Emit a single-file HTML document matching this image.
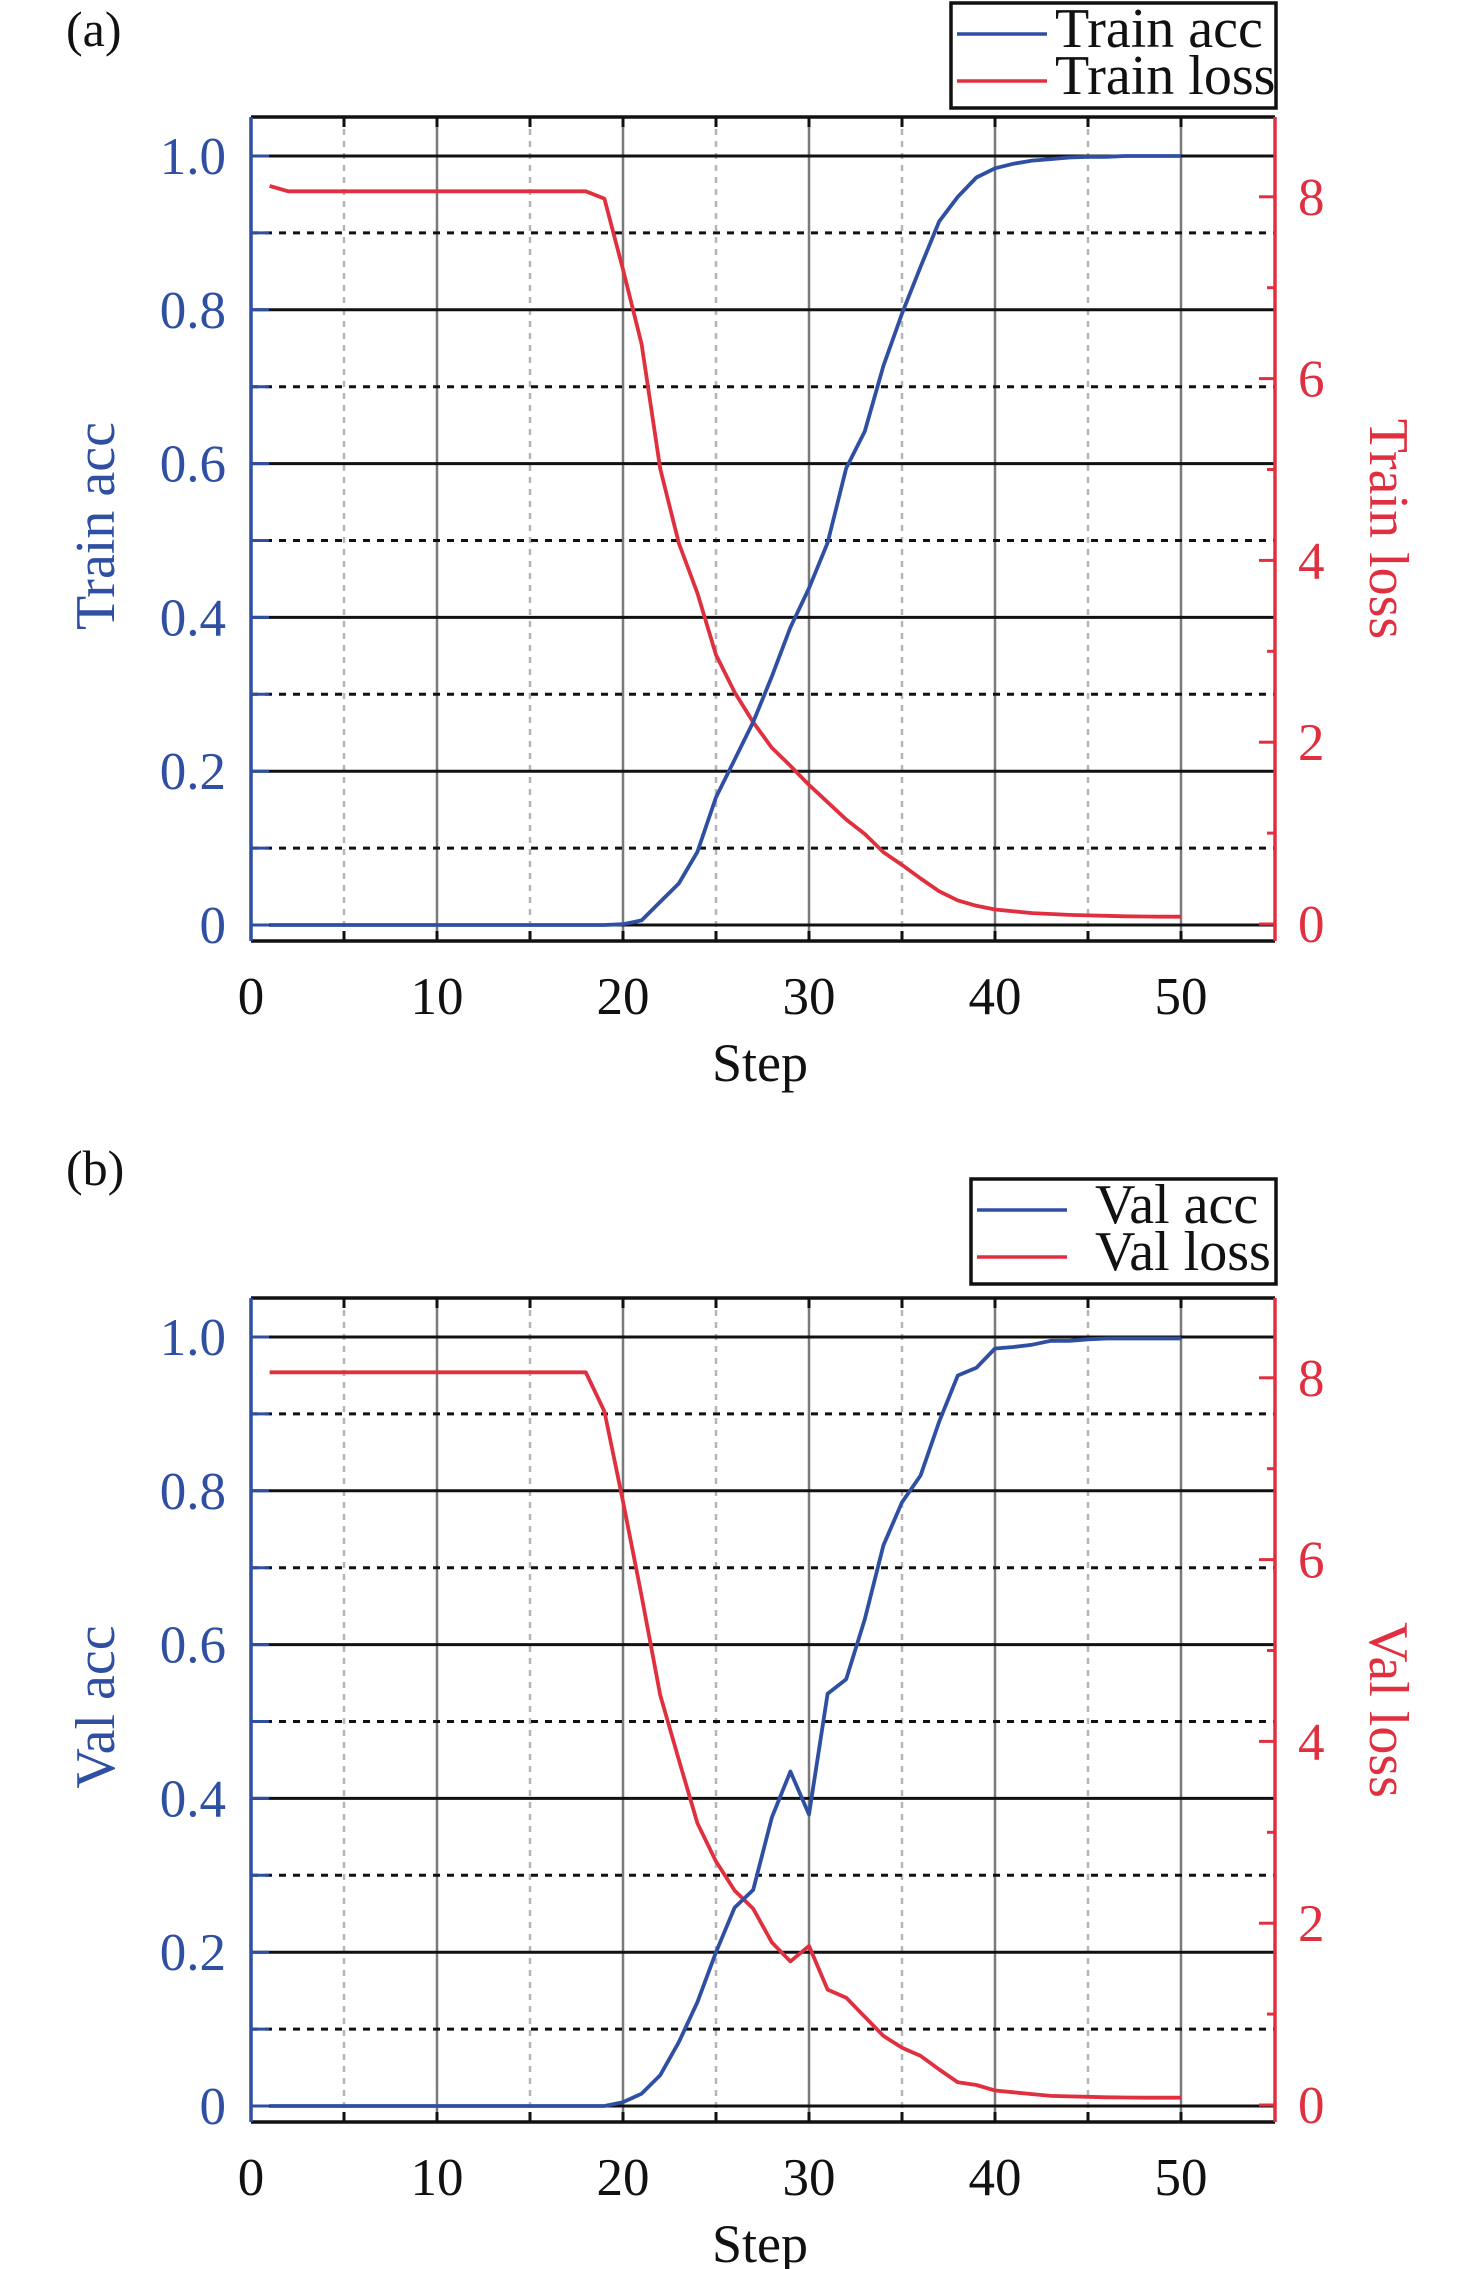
<!DOCTYPE html>
<html><head><meta charset="utf-8">
<style>
html,body{margin:0;padding:0;background:#fff;}
svg{display:block;}
text{font-family:"Liberation Serif",serif;}
</style></head>
<body>
<svg id="s" xmlns="http://www.w3.org/2000/svg" width="1476" height="2269" viewBox="0 0 1476 2269"></svg>
<script>
const B="#2f4fa2",R="#e0303f";
const S=document.getElementById('s');
let h='';
function X(s){return 251+18.6*s;}
function panel(o,accName,lossName,acc,loss,tag,tagY,leg){
  const top=117+o,bot=941+o,L=251,Rr=1275;
  const ya=v=>925+o-769*v, yl=v=>924+o-90.9*v;
  for(let s=5;s<=50;s+=5){
    const x=X(s);
    if(s%10==0) h+=`<line x1="${x}" y1="${top}" x2="${x}" y2="${bot}" stroke="#7a7a7a" stroke-width="2.5"/>`;
    else h+=`<line x1="${x}" y1="${top}" x2="${x}" y2="${bot}" stroke="#b5b5b5" stroke-width="2.5" stroke-dasharray="6,6"/>`;
    h+=`<line x1="${x}" y1="${top}" x2="${x}" y2="${top+10}" stroke="#111" stroke-width="3"/>`;
    h+=`<line x1="${x}" y1="${bot}" x2="${x}" y2="${bot-10}" stroke="#111" stroke-width="3"/>`;
  }
  for(let i=0;i<=10;i++){
    const y=ya(i/10);
    if(i%2==0) h+=`<line x1="${L}" y1="${y}" x2="${Rr}" y2="${y}" stroke="#111" stroke-width="3"/>`;
    else h+=`<line x1="${L}" y1="${y}" x2="${Rr}" y2="${y}" stroke="#111" stroke-width="3" stroke-dasharray="7,7"/>`;
    h+=`<line x1="${L}" y1="${y}" x2="${L+18}" y2="${y}" stroke="${B}" stroke-width="3"/>`;
  }
  h+=`<line x1="${L}" y1="${top}" x2="${Rr}" y2="${top}" stroke="#111" stroke-width="3.5"/>`;
  h+=`<line x1="${L}" y1="${bot}" x2="${Rr}" y2="${bot}" stroke="#111" stroke-width="3.5"/>`;
  h+=`<line x1="${L}" y1="${top}" x2="${L}" y2="${bot}" stroke="${B}" stroke-width="3.5"/>`;
  h+=`<line x1="${Rr}" y1="${top}" x2="${Rr}" y2="${bot}" stroke="${R}" stroke-width="3.5"/>`;
  for(let v=0;v<=8;v++){
    const y=yl(v);
    h+=`<line x1="${Rr}" y1="${y}" x2="${Rr-(v%2==0?16:8)}" y2="${y}" stroke="${R}" stroke-width="3"/>`;
    if(v%2==0) h+=`<text x="1298" y="${y+18}" font-size="53" fill="${R}">${v}</text>`;
  }
  const al=['0','0.2','0.4','0.6','0.8','1.0'];
  al.forEach((t,i)=>{h+=`<text x="226" y="${ya(i*0.2)+18}" font-size="53" fill="${B}" text-anchor="end">${t}</text>`;});
  for(let s=0;s<=50;s+=10) h+=`<text x="${X(s)}" y="${bot+73}" font-size="53" fill="#111" text-anchor="middle">${s}</text>`;
  h+=`<text x="760" y="${bot+140}" font-size="54" fill="#111" text-anchor="middle">Step</text>`;
  h+=`<text transform="translate(114,${526+o}) rotate(-90)" font-size="56" fill="${B}" text-anchor="middle">${accName}</text>`;
  h+=`<text transform="translate(1370,${529+o}) rotate(90)" font-size="56" fill="${R}" text-anchor="middle">${lossName}</text>`;
  h+=`<text x="66" y="${tagY}" font-size="50" fill="#111">${tag}</text>`;
  const pa=acc.map((v,i)=>X(i+1).toFixed(1)+','+ya(v).toFixed(1)).join(' ');
  const pl=loss.map((v,i)=>X(i+1).toFixed(1)+','+yl(v).toFixed(1)).join(' ');
  h+=`<polyline points="${pl}" fill="none" stroke="${R}" stroke-width="3.8" stroke-linejoin="round"/>`;
  h+=`<polyline points="${pa}" fill="none" stroke="${B}" stroke-width="3.8" stroke-linejoin="round"/>`;
  const [lx,ly,lw,lh,n1,n2,tx]=leg;
  h+=`<rect x="${lx}" y="${ly+o}" width="${lw}" height="${lh}" fill="#fff" stroke="#111" stroke-width="3.5"/>`;
  h+=`<line x1="${lx+6}" y1="${ly+31+o}" x2="${lx+96}" y2="${ly+31+o}" stroke="${B}" stroke-width="3.5"/>`;
  h+=`<line x1="${lx+6}" y1="${ly+78+o}" x2="${lx+96}" y2="${ly+78+o}" stroke="${R}" stroke-width="3.5"/>`;
  h+=`<text x="${lx+tx}" y="${ly+44+o}" font-size="56" fill="#111">${n1}</text>`;
  h+=`<text x="${lx+tx}" y="${ly+91+o}" font-size="56" fill="#111">${n2}</text>`;
}
function fill(arr,n,v){while(arr.length<n)arr.push(v);return arr;}
let ta=fill([],19,0).concat([0.001,0.006,0.03,0.054,0.095,0.166,0.215,0.264,0.323,0.387,0.438,0.497,0.594,0.642,0.727,0.795,0.856,0.915,0.947,0.972,0.984,0.99,0.994,0.996,0.998,0.999,0.999,1,1,1,1]);
let tl=[8.12].concat(fill([],17,8.06)).concat([7.98,7.2,6.38,5.01,4.19,3.64,2.96,2.55,2.22,1.94,1.74,1.53,1.34,1.15,0.99,0.79,0.65,0.5,0.36,0.26,0.2,0.16,0.14,0.12,0.11,0.1,0.095,0.09,0.085,0.083,0.08,0.08]);
let va=fill([],19,0).concat([0.005,0.016,0.04,0.083,0.135,0.2,0.258,0.281,0.375,0.435,0.379,0.536,0.555,0.633,0.729,0.785,0.82,0.89,0.95,0.96,0.985,0.987,0.99,0.995,0.995,0.997,0.998,0.998,0.998,0.998,0.998]);
let vl=fill([],18,8.06).concat([7.63,6.64,5.6,4.51,3.8,3.1,2.68,2.36,2.16,1.79,1.58,1.75,1.27,1.18,0.97,0.76,0.63,0.54,0.39,0.25,0.22,0.16,0.14,0.12,0.1,0.095,0.09,0.085,0.083,0.08,0.08,0.08]);
panel(0,"Train acc","Train loss",ta,tl,"(a)",46,[951,3,325,105,"Train acc","Train loss",104]);
panel(1181,"Val acc","Val loss",va,vl,"(b)",1185,[971,-2,305,105,"Val acc","Val loss",124]);
S.innerHTML=h;
</script>
</body></html>
